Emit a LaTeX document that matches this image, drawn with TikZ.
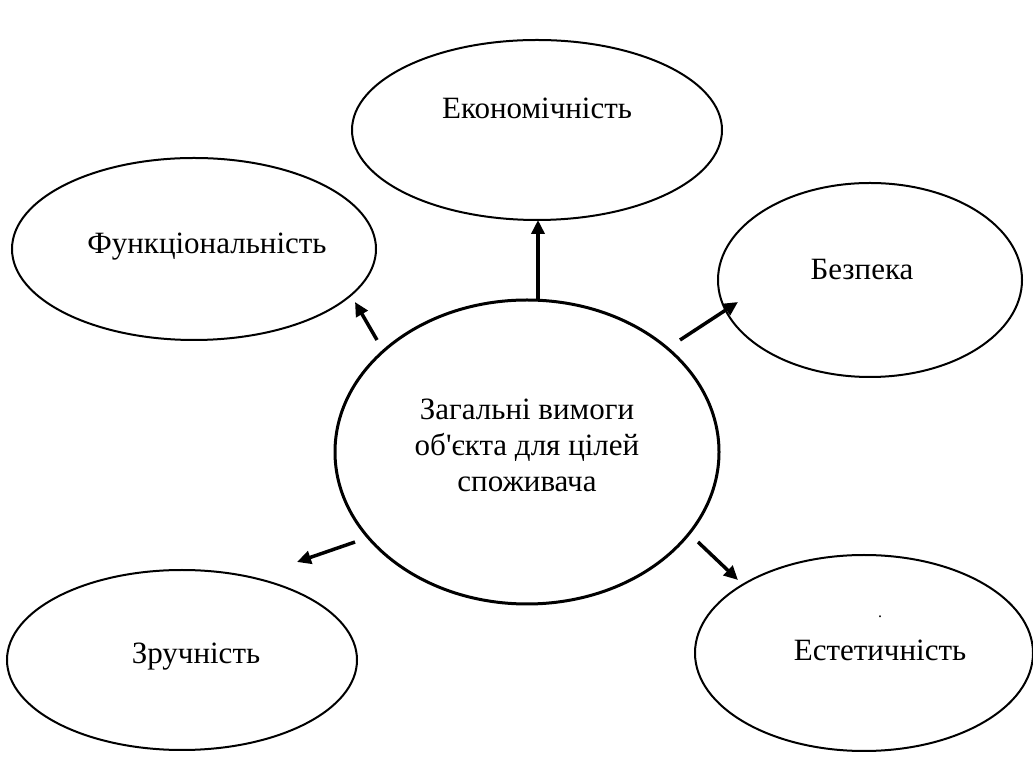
\documentclass[tikz,border=0pt]{standalone}
\usepackage{fontspec}
\setmainfont{Liberation Serif}[Ligatures=TeXOff]
\usetikzlibrary{shapes.geometric,arrows.meta}
\begin{document}
\begin{tikzpicture}[x=1pt,y=1pt,
  oval/.style={draw, ellipse, line width=2pt, inner sep=0pt},
  txt/.style={font=\fontsize{31}{36}\selectfont, align=center, inner sep=0pt},
  conn/.style={line width=3.5pt, -{Triangle[length=14pt,width=13pt]}}]
\useasboundingbox (0,0) rectangle (1033,760);
\node[oval, line width=3pt, minimum width=384pt, minimum height=304pt] (c) at (527,308) {};
\node[txt] (ct) at (527,315) {Загальні вимоги\\об'єкта для цілей\\споживача};
\node[oval, minimum width=370pt, minimum height=180pt] (eko) at (537,630) {};
\node[txt] (ekot) at (537,652) {Економічність};
\node[oval, minimum width=364pt, minimum height=182pt] (fun) at (194,511) {};
\node[txt] (funt) at (207,513) {Функціональність};
\node[oval, minimum width=304pt, minimum height=194pt] (bez) at (870,480) {};
\node[txt] (bezt) at (862,490) {Безпека};
\node[oval, minimum width=350pt, minimum height=180pt] (zr) at (182,100) {};
\node[txt] (zrt) at (196,103) {Зручність};
\node[oval, minimum width=338pt, minimum height=196pt] (est) at (864,107) {};
\node[txt] (estt) at (880,110) {Естетичність};
\node[txt, font=\fontsize{16}{16}\selectfont] (dot) at (880,143) {.};
\coordinate (a1) at (538,460); \coordinate (b1) at (538,540);
\coordinate (a2) at (377,420); \coordinate (b2) at (355,458);
\coordinate (a3) at (680,420); \coordinate (b3) at (738,458);
\coordinate (a4) at (355,218); \coordinate (b4) at (297,198);
\coordinate (a5) at (698,218); \coordinate (b5) at (738,180);
\draw[conn] (a1) -- (b1);
\draw[conn] (a2) -- (b2);
\draw[conn] (a3) -- (b3);
\draw[conn] (a4) -- (b4);
\draw[conn] (a5) -- (b5);
\end{tikzpicture}
\end{document}
